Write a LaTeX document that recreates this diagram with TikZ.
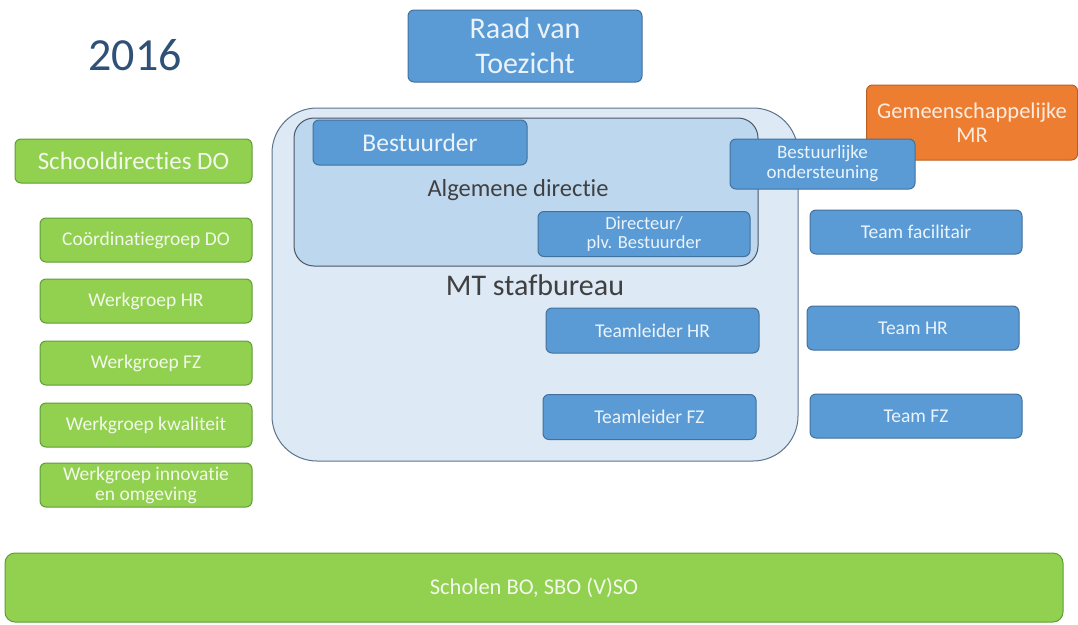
\documentclass[tikz,border=0pt]{standalone}
\usepackage{fontspec}
\setmainfont[Ligatures=NoCommon]{Carlito}
\usepackage{xcolor}
\usepackage{tikz}
\usetikzlibrary{positioning}
\definecolor{boxblue}{HTML}{5B9BD5}
\definecolor{boxblueline}{HTML}{41719C}
\definecolor{mtfill}{HTML}{DDE9F5}
\definecolor{mtline}{HTML}{5C738C}
\definecolor{adfill}{HTML}{BDD7EE}
\definecolor{adline}{HTML}{4A5766}
\definecolor{boxgreen}{HTML}{92D050}
\definecolor{boxgreenline}{HTML}{5E9E36}
\definecolor{boxorange}{HTML}{ED7D31}
\definecolor{boxorangeline}{HTML}{B85F24}
\definecolor{yeartext}{HTML}{2F5178}
\definecolor{labeltext}{HTML}{404040}
\tikzset{
  unit/.style={rectangle, rounded corners=6pt, inner sep=0pt, align=center, line width=1pt},
  blueunit/.style={unit, draw=boxblueline, fill=boxblue, text=white!88!boxblue,
                   minimum width=213pt, minimum height=45pt, font=\fontsize{19.5}{20}\selectfont},
  greenunit/.style={unit, draw=boxgreenline, fill=boxgreen, text=white!88!boxgreen,
                    minimum width=212pt, minimum height=44pt, font=\fontsize{19.5}{20}\selectfont},
  orangeunit/.style={unit, draw=boxorangeline, fill=boxorange, text=white!85!boxorange},
  frame/.style={rectangle, draw=mtline, line width=1pt, inner sep=0pt},
  framelabel/.style={text=labeltext, inner sep=0pt},
}

\begin{document}
\begin{tikzpicture}[x=1pt, y=-1pt]
  \useasboundingbox (0,0) rectangle (1078,624);

  %% ---- TOP ----
  \node[text=yeartext, font=\fontsize{46}{50}\selectfont, inner sep=0pt] (year) at (135,55) {2016};
  \node[blueunit, minimum width=234pt, minimum height=72pt, font=\fontsize{30}{35}\selectfont] (rvt) at (525,46) {Raad van\\Toezicht};
  \node[orangeunit, minimum width=211pt, minimum height=75pt, font=\fontsize{22.5}{24}\selectfont] (gmr) at (972,122.5) {Gemeenschappelijke\\MR};

  %% ---- MT STAFBUREAU ----
  \node[frame, fill=mtfill, rounded corners=45pt, minimum width=526pt, minimum height=353pt] (mt) at (535,284.5) {};
  \node[frame, draw=adline, fill=adfill, rounded corners=20pt, minimum width=464pt, minimum height=148pt] (ad) at (526,192) {};
  \node[framelabel, font=\fontsize{24.5}{26}\selectfont] (adlabel) at (518,190) {Algemene directie};
  \node[framelabel, font=\fontsize{30}{32}\selectfont] (mtlabel) at (535,285) {MT stafbureau};

  \node[blueunit, minimum width=214pt, font=\fontsize{25.5}{27}\selectfont] (bestuurder) at (420,142.5) {Bestuurder};
  \node[blueunit, minimum width=212pt, font=\fontsize{18.5}{19}\selectfont] (directeur) at (644,234) {Directeur/\\plv. Bestuurder};
  \node[blueunit, minimum width=185pt, minimum height=50pt, font=\fontsize{19}{20}\selectfont] (ondersteuning) at (822.5,164) {Bestuurlijke\\ondersteuning};
  \node[blueunit] (tlhr) at (652.5,330.5) {Teamleider HR};
  \node[blueunit] (tlfz) at (649.5,417) {Teamleider FZ};

  %% ---- TEAMS ----
  \node[blueunit, minimum width=212pt, minimum height=44pt] (tfac) at (916,232) {Team facilitair};
  \node[blueunit, minimum width=212pt, minimum height=44pt] (thr) at (913,328) {Team HR};
  \node[blueunit, minimum width=212pt, minimum height=44pt] (tfz) at (916,416) {Team FZ};

  %% ---- DO ----
  \node[greenunit, minimum width=237pt, font=\fontsize{25}{27}\selectfont] (sdo) at (133.5,161) {Schooldirecties DO};
  \node[greenunit] (coord) at (146,240) {Coördinatiegroep DO};
  \node[greenunit, below=16pt of coord] (wghr) {Werkgroep HR};
  \node[greenunit, below=17pt of wghr] (wgfz) {Werkgroep FZ};
  \node[greenunit, below=17pt of wgfz] (wgkw) {Werkgroep kwaliteit};
  \node[greenunit, below=15pt of wgkw] (wgio) {Werkgroep innovatie\\en omgeving};

  %% ---- SCHOLEN ----
  \node[greenunit, rounded corners=10pt, minimum width=1058pt, minimum height=69pt, font=\fontsize{22.5}{24}\selectfont] (scholen) at (534,587.5) {Scholen BO, SBO (V)SO};

\end{tikzpicture}
\end{document}
